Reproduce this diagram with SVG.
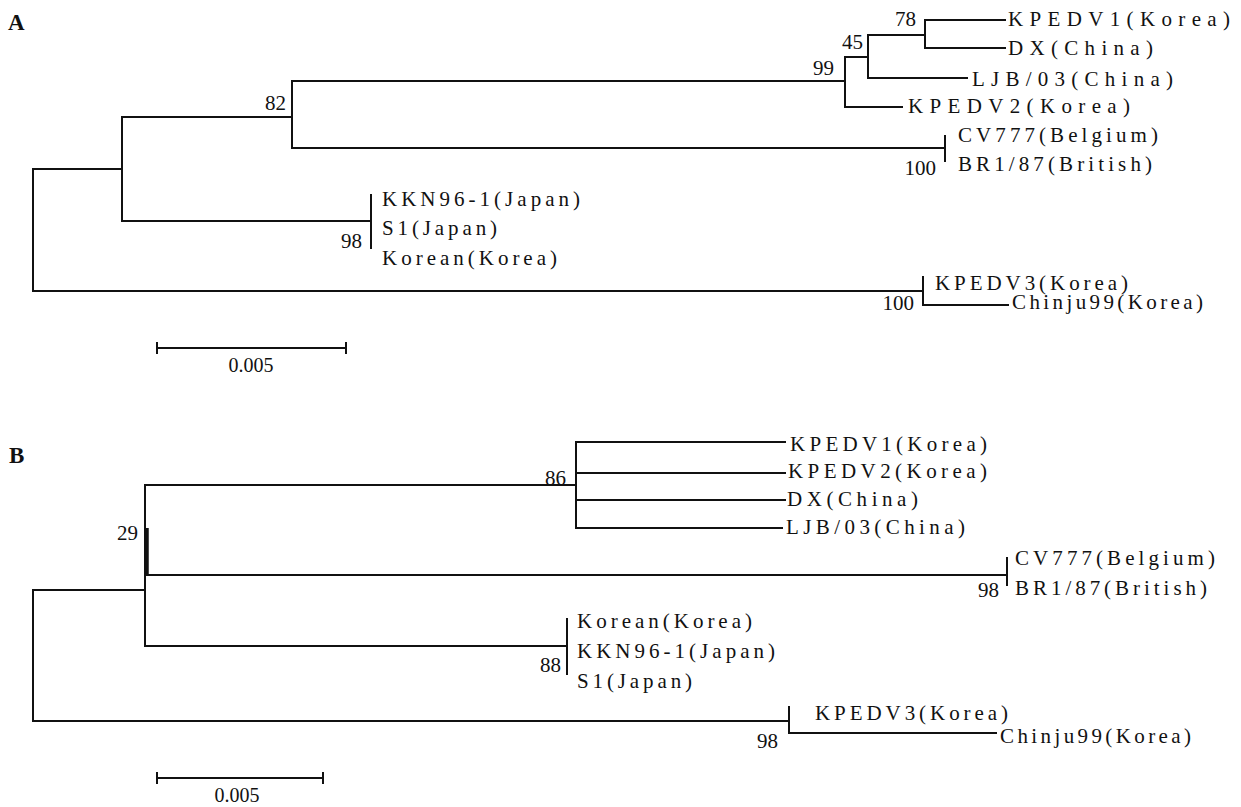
<svg xmlns="http://www.w3.org/2000/svg" width="1241" height="807" viewBox="0 0 1241 807">
<style>
.e{stroke:#111;stroke-width:2;fill:none;stroke-linecap:square}
.t{font-family:"Liberation Serif","Times New Roman",serif;font-size:21px;fill:#111}
.n{font-family:"Liberation Serif","Times New Roman",serif;font-size:21px;fill:#111;text-anchor:end}
.p{font-family:"Liberation Serif","Times New Roman",serif;font-size:23px;font-weight:bold;fill:#111}
.s{font-family:"Liberation Serif","Times New Roman",serif;font-size:20px;fill:#111;text-anchor:middle}
</style>
<rect width="1241" height="807" fill="#fff"/>
<text class="p" x="8" y="30">A</text>
<text class="p" x="9" y="463">B</text>

<g id="connectors">
<!-- Panel A -->
<path class="e" d="M33,169 V291 M33,169 H122 M33,291 H923 M122,117 V221 M122,117 H292 M122,221 H371 M292,81 V148 M292,81 H845 M292,148 H945 M845,57 V107 M845,57 H868 M845,107 H902 M868,35 V78 M868,35 H925 M868,78 H967 M925,20 V48 M925,20 H1005 M925,48 H1005 M945,136 V161 M371,195 V248 M923,277 V305 M923,305 H1008"/>
<!-- Panel B -->
<path class="e" d="M33,590 V721 M33,590 H145 M33,721 H789 M145,485 V646 M145,485 H576 M147,575 H1007 M145,646 H567 M576,442 V528 M576,442 H785 M576,473 H785 M576,500 H785 M576,528 H782 M1007,558 V585 M567,619 V674 M789,707 V733 M789,733 H996"/>
<path d="M147,528 V575" stroke="#111" stroke-width="3.5" fill="none"/>
</g>

<g id="nodeA_82"><text class="n" x="286" y="110">82</text></g>
<g id="nodeA_99"><text class="n" x="834" y="75">99</text></g>
<g id="nodeA_45"><text class="n" x="863" y="49">45</text></g>
<g id="nodeA_78"><text class="n" x="916" y="26">78</text></g>
<g id="nodeA_100a"><text class="n" x="936" y="175">100</text></g>
<g id="nodeA_98"><text class="n" x="362" y="248">98</text></g>
<g id="nodeA_100b"><text class="n" x="914" y="310">100</text></g>

<g id="leafA_KPEDV1"><text class="t" x="1008" y="26" textLength="222" lengthAdjust="spacing">KPEDV1(Korea)</text></g>
<g id="leafA_DX"><text class="t" x="1008" y="55" textLength="145" lengthAdjust="spacing">DX(China)</text></g>
<g id="leafA_LJB"><text class="t" x="972" y="86" textLength="201" lengthAdjust="spacing">LJB/03(China)</text></g>
<g id="leafA_KPEDV2"><text class="t" x="908" y="113" textLength="222" lengthAdjust="spacing">KPEDV2(Korea)</text></g>
<g id="leafA_CV777"><text class="t" x="958" y="142" textLength="200" lengthAdjust="spacing">CV777(Belgium)</text></g>
<g id="leafA_BR1"><text class="t" x="958" y="171" textLength="194" lengthAdjust="spacing">BR1/87(British)</text></g>
<g id="leafA_KKN"><text class="t" x="382" y="206" textLength="198" lengthAdjust="spacing">KKN96-1(Japan)</text></g>
<g id="leafA_S1"><text class="t" x="382" y="235" textLength="115" lengthAdjust="spacing">S1(Japan)</text></g>
<g id="leafA_Korean"><text class="t" x="382" y="265" textLength="175" lengthAdjust="spacing">Korean(Korea)</text></g>
<g id="leafA_KPEDV3"><text class="t" x="935" y="290" textLength="193" lengthAdjust="spacing">KPEDV3(Korea)</text></g>
<g id="leafA_Chinju"><text class="t" x="1012" y="309" textLength="191" lengthAdjust="spacing">Chinju99(Korea)</text></g>

<g id="scaleA">
<path class="e" d="M157,348 H346 M157,343 V353 M346,343 V353"/>
<text class="s" x="251" y="372">0.005</text>
</g>

<g id="nodeB_29"><text class="n" x="138" y="540">29</text></g>
<g id="nodeB_86"><text class="n" x="566" y="485">86</text></g>
<g id="nodeB_98a"><text class="n" x="999" y="597">98</text></g>
<g id="nodeB_88"><text class="n" x="561" y="672">88</text></g>
<g id="nodeB_98b"><text class="n" x="778" y="748">98</text></g>

<g id="leafB_KPEDV1"><text class="t" x="790" y="451" textLength="197" lengthAdjust="spacing">KPEDV1(Korea)</text></g>
<g id="leafB_KPEDV2"><text class="t" x="788" y="478" textLength="199" lengthAdjust="spacing">KPEDV2(Korea)</text></g>
<g id="leafB_DX"><text class="t" x="787" y="506" textLength="131" lengthAdjust="spacing">DX(China)</text></g>
<g id="leafB_LJB"><text class="t" x="786" y="534" textLength="179" lengthAdjust="spacing">LJB/03(China)</text></g>
<g id="leafB_CV777"><text class="t" x="1015" y="565" textLength="200" lengthAdjust="spacing">CV777(Belgium)</text></g>
<g id="leafB_BR1"><text class="t" x="1015" y="595" textLength="192" lengthAdjust="spacing">BR1/87(British)</text></g>
<g id="leafB_Korean"><text class="t" x="577" y="628" textLength="175" lengthAdjust="spacing">Korean(Korea)</text></g>
<g id="leafB_KKN"><text class="t" x="577" y="658" textLength="198" lengthAdjust="spacing">KKN96-1(Japan)</text></g>
<g id="leafB_S1"><text class="t" x="577" y="688" textLength="115" lengthAdjust="spacing">S1(Japan)</text></g>
<g id="leafB_KPEDV3"><text class="t" x="815" y="720" textLength="193" lengthAdjust="spacing">KPEDV3(Korea)</text></g>
<g id="leafB_Chinju"><text class="t" x="1000" y="743" textLength="191" lengthAdjust="spacing">Chinju99(Korea)</text></g>

<g id="scaleB">
<path class="e" d="M157,778 H323 M157,773 V783 M323,773 V783"/>
<text class="s" x="237" y="802">0.005</text>
</g>
</svg>
